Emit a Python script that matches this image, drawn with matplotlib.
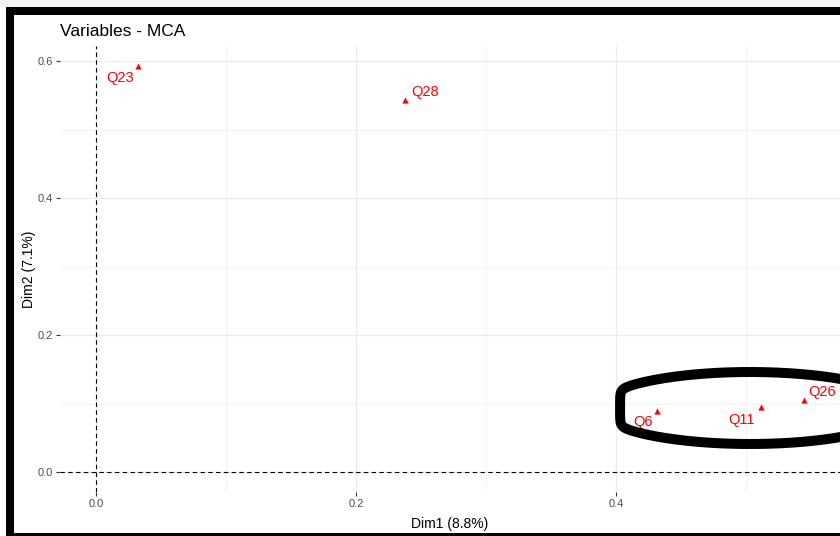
import numpy as np
import matplotlib.pyplot as plt
from matplotlib.lines import Line2D
from matplotlib.patches import Rectangle

plt.rcParams['font.family'] = ['Liberation Sans', 'DejaVu Sans']

# data
labels = ['Q23', 'Q28', 'Q6', 'Q11', 'Q26']
dim1 = [0.0323, 0.2377, 0.4315, 0.511, 0.5446]
dim2 = [0.593, 0.543, 0.089, 0.095, 0.105]
# label offsets in points (ggrepel-like placement)
offs = [(-3, -8.5), (4.5, 6), (-3, -8), (-4.5, -9.5), (3, 6)]
aligns = ['right', 'left', 'right', 'right', 'left']

xticks = [0.0, 0.2, 0.4]
yticks = [0.0, 0.2, 0.4, 0.6]

W, H = 840, 536
fig = plt.figure(figsize=(W / 100, H / 100), dpi=100)
fig.patch.set_facecolor('white')

# panel in pixel coords (left, top, right, bottom)
pl, pt, pr, pb = 60, 46, 840, 492
ax = fig.add_axes([pl / W, 1 - pb / H, (pr - pl) / W, (pb - pt) / H])
ax.set_xlim(-0.0277, 0.572)
ax.set_ylim(-0.029, 0.622)

for s in ax.spines.values():
    s.set_visible(False)

ax.set_xticks(xticks)
ax.set_yticks(yticks)
ax.set_xticks([0.1, 0.3, 0.5], minor=True)
ax.set_yticks([0.1, 0.3, 0.5], minor=True)
ax.set_xticklabels([f'{v:.1f}' for v in xticks])
ax.set_yticklabels([f'{v:.1f}' for v in yticks])
ax.tick_params(which='major', length=3, width=0.8, color='#333333',
               labelcolor='#4D4D4D', labelsize=8, pad=2)
ax.tick_params(which='minor', length=0)
ax.grid(which='major', color='#EBEBEB', lw=0.9)
ax.grid(which='minor', color='#F0F0F0', lw=0.6)
ax.set_axisbelow(True)

ax.axhline(0, color='black', ls=(0, (4, 3)), lw=0.8)
ax.axvline(0, color='black', ls=(0, (4, 3)), lw=0.8)

ax.scatter(dim1, dim2, marker='^', s=20, color='red', zorder=3, linewidths=0)
for lab, x, y, o, al in zip(labels, dim1, dim2, offs, aligns):
    ax.annotate(lab, (x, y), xytext=o, textcoords='offset points',
                color='red', fontsize=10.5, ha=al, va='center')

ax.set_xlabel('Dim1 (8.8%)', fontsize=10, labelpad=6)
ax.set_ylabel('Dim2 (7.1%)', fontsize=10, labelpad=1)
fig.text(60 / W, 1 - 31 / H, 'Variables - MCA', fontsize=12.5, va='center')

# black hand-drawn highlight: an ellipse with a softly flattened left side
t = np.linspace(0, 2 * np.pi, 800)
cx, cy, a, b = 750, 408, 153, 36
cut, r = 620, 5.0
raw = cx + a * np.cos(t)
ex = cut + r * np.logaddexp(0, (raw - cut) / r)
ey = cy + b * np.sin(t)
fig.add_artist(Line2D(ex / W, 1 - ey / H, transform=fig.transFigure,
                      color='black', lw=7.2, solid_joinstyle='round'))

# screenshot frame
fig.add_artist(Rectangle((0, 1 - 7 / H), 1, 7 / H, transform=fig.transFigure,
                         color='#F4F4F4', lw=0))
fig.add_artist(Rectangle((6 / W, 1 - 15 / H), 1, 8 / H, transform=fig.transFigure,
                         color='black', lw=0))
fig.add_artist(Rectangle((6 / W, 0), 8 / W, 1 - 7 / H, transform=fig.transFigure,
                         color='black', lw=0))
fig.add_artist(Rectangle((6 / W, 0), 1, 3 / H, transform=fig.transFigure,
                         color='black', lw=0))

fig.savefig('out.png', dpi=100)
